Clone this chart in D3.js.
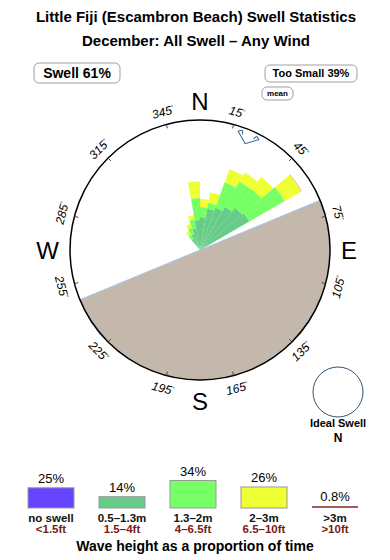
<!DOCTYPE html>
<html><head><meta charset="utf-8">
<script src="https://cdn.jsdelivr.net/npm/d3@7"></script>
<style>
html,body{margin:0;padding:0;background:#fff;}
svg{display:block;font-family:"Liberation Sans",Arial,Helvetica,sans-serif;}
</style></head>
<body>
<script>
// ---- data ----
const titleLines = ["Little Fiji (Escambron Beach) Swell Statistics", "December: All Swell \u2013 Any Wind"];
const sectorStarts = [320, 330, 340, 350, 0, 10, 20, 30, 40, 50];   // bearing, degrees, 10° wide
const band05_13 = [1.3, 1.7, 2.2, 3.0, 3.3, 4.2, 4.5, 5.0, 5.5, 5.7];
const band13_2  = [0.5, 0.7, 0.9, 2.2, 1.0, 0.6, 2.7, 2.9, 2.5, 4.1];
const band2_3   = [0.4, 0.4, 0.45, 1.65, 0.8, 1.05, 1.4, 1.05, 1.55, 1.9];
const band3p    = [0, 0, 0, 0, 0, 0, 0, 0, 0, 0.05];
const tickBearings = [15, 45, 75, 105, 135, 165, 195, 225, 255, 285, 315, 345];
const compass = [["N", 0], ["E", 90], ["S", 180], ["W", 270]];
const compassOffset = [148.5, 149, 151.5, 152.5];
const coastBearing = 67.5;      // shoreline direction, land to the south-east
const meanDirection = 23;
const legendPct = [25, 14, 34, 26, 0.8];
const legendPctLabels = ["25%", "14%", "34%", "26%", "0.8%"];
const legendMetres = ["no swell", "0.5\u20131.3m", "1.3\u20132m", "2\u20133m", ">3m"];
const legendFeet = ["<1.5ft", "1.5\u20134ft", "4\u20136.5ft", "6.5\u201310ft", ">10ft"];
const legendColors = ["#6644FF", "#66CC88", "#77FF66", "#EEFF33", "#7A2A1E"];
const roseColors = ["#66CC88", "#77FF66", "#EEFF33", "#E08A50"];
const swellPct = "Swell 61%", tooSmallPct = "Too Small 39%";

// ---- layout ----
const W = 390, H = 560;
const cx = 200, cy = 250, R = 130;
const svg = d3.select("body").append("svg").attr("width", W).attr("height", H);
const rad = d => d * Math.PI / 180;

svg.selectAll("text.title").data(titleLines).join("text")
  .attr("x", 196).attr("y", (d, i) => 22 + i * 24)
  .attr("text-anchor", "middle").attr("font-size", 15).attr("font-weight", "bold")
  .text(d => d);

// boxes
function labelBox(x, y, w, h, text, fs, r) {
  svg.append("rect").attr("x", x).attr("y", y).attr("width", w).attr("height", h)
    .attr("rx", r).attr("ry", r).attr("fill", "#fff").attr("stroke", "#888").attr("stroke-width", 0.8);
  svg.append("text").attr("x", x + w / 2).attr("y", y + h / 2).attr("dy", "0.36em")
    .attr("text-anchor", "middle").attr("font-size", fs).attr("font-weight", "bold").text(text);
}
labelBox(34, 63, 86, 20, swellPct, 14, 5);
labelBox(265, 65, 92, 17, tooSmallPct, 11, 5);
labelBox(262, 87, 31, 13, "mean", 8, 5);

const g = svg.append("g").attr("transform", `translate(${cx},${cy})`);

// land
g.append("path")
  .attr("d", d3.arc()({innerRadius: 0, outerRadius: R, startAngle: rad(coastBearing), endAngle: rad(coastBearing + 180)}))
  .attr("fill", "#C4B8AC");
const p1 = [R * Math.sin(rad(coastBearing)), -R * Math.cos(rad(coastBearing))];
g.append("line").attr("x1", p1[0]).attr("y1", p1[1]).attr("x2", -p1[0]).attr("y2", -p1[1])
  .attr("stroke", "#A8C8E8").attr("stroke-width", 1);

// rose
const rScale = d3.scaleLinear().domain([0, 13]).range([0, R]);
const bands = [band05_13, band13_2, band2_3, band3p];
const arc = d3.arc();
sectorStarts.forEach((s, i) => {
  let acc = 0;
  bands.forEach((b, j) => {
    const v = b[i];
    if (v <= 0) return;
    g.append("path").attr("d", arc({
      innerRadius: rScale(acc), outerRadius: rScale(acc + v),
      startAngle: rad(s), endAngle: rad(s + 10)
    })).attr("fill", roseColors[j]);
    acc += v;
  });
});

// mean marker
const mg = g.append("g").attr("transform", `rotate(${meanDirection})`);
mg.append("path").attr("d", "M-11.5,-124.5 L0,-115.5 L11,-124.5 L7.5,-127 M-7.5,-127 L-11.5,-124.5")
  .attr("fill", "none").attr("stroke", "#336699").attr("stroke-width", 1);
mg.append("path").attr("d", "M-7.5,-127 L-6,-123 M7.5,-127 L6,-123")
  .attr("fill", "none").attr("stroke", "#336699").attr("stroke-width", 1);

// circle
g.append("circle").attr("r", R).attr("fill", "none").attr("stroke", "#000").attr("stroke-width", 1.5);

// ticks
tickBearings.forEach(b => {
  const s = Math.sin(rad(b)), c = -Math.cos(rad(b));
  g.append("line").attr("x1", s * R).attr("y1", c * R).attr("x2", s * (R - 4)).attr("y2", c * (R - 4))
    .attr("stroke", "#444").attr("stroke-width", 1);
  let rot = (b > 90 && b < 270) ? b - 180 : (b > 180 ? b - 360 : b);
  const t = g.append("text")
    .attr("transform", `translate(${s * (R + 13)},${c * (R + 13)}) rotate(${rot})`)
    .attr("text-anchor", "middle").attr("dy", "0.36em")
    .attr("font-size", 12).attr("font-style", "italic");
  t.append("tspan").text(b);
  t.append("tspan").attr("font-size", 6).attr("dy", "-0.7em").text("\u00B0");
});

// compass letters
compass.forEach(([l, b], i) => {
  const o = compassOffset[i];
  g.append("text")
    .attr("x", Math.sin(rad(b)) * o)
    .attr("y", -Math.cos(rad(b)) * o)
    .attr("dy", "0.36em").attr("text-anchor", "middle").attr("font-size", 24).text(l);
});

// ideal swell
svg.append("circle").attr("cx", 338).attr("cy", 392).attr("r", 25)
  .attr("fill", "none").attr("stroke", "#335577").attr("stroke-width", 1);
svg.append("text").attr("x", 338).attr("y", 427).attr("text-anchor", "middle")
  .attr("font-size", 11).attr("font-weight", "bold").text("Ideal Swell");
svg.append("text").attr("x", 338).attr("y", 442).attr("text-anchor", "middle")
  .attr("font-size", 12).attr("font-weight", "bold").text("N");

// legend
const lx = d3.scalePoint().domain(legendMetres).range([51, 335]);
const hScale = d3.scaleLinear().domain([0, 34]).range([0, 27.5]);
const base = 508;
legendMetres.forEach((m, i) => {
  const x = lx(m), h = hScale(legendPct[i]);
  if (i < 4) {
    svg.append("rect").attr("x", x - 23).attr("y", base - h).attr("width", 46).attr("height", h)
      .attr("fill", legendColors[i]).attr("stroke", "#999").attr("stroke-width", 1);
  } else {
    svg.append("line").attr("x1", x - 23).attr("x2", x + 23).attr("y1", base - 1).attr("y2", base - 1)
      .attr("stroke", legendColors[i]).attr("stroke-width", 1.5);
  }
  svg.append("text").attr("x", x).attr("y", base - Math.max(h, 2) - 5).attr("text-anchor", "middle")
    .attr("font-size", 13).text(legendPctLabels[i]);
  svg.append("text").attr("x", x).attr("y", 522).attr("text-anchor", "middle")
    .attr("font-size", 11.5).attr("font-weight", "bold").attr("fill", "#111").text(m);
  svg.append("text").attr("x", x).attr("y", 533).attr("text-anchor", "middle")
    .attr("font-size", 11.5).attr("font-weight", "bold").attr("fill", "#7A1A10").text(legendFeet[i]);
});
svg.append("text").attr("x", 195).attr("y", 551).attr("text-anchor", "middle")
  .attr("font-size", 14).attr("font-weight", "bold").text("Wave height as a proportion of time");
</script>
</body></html>
